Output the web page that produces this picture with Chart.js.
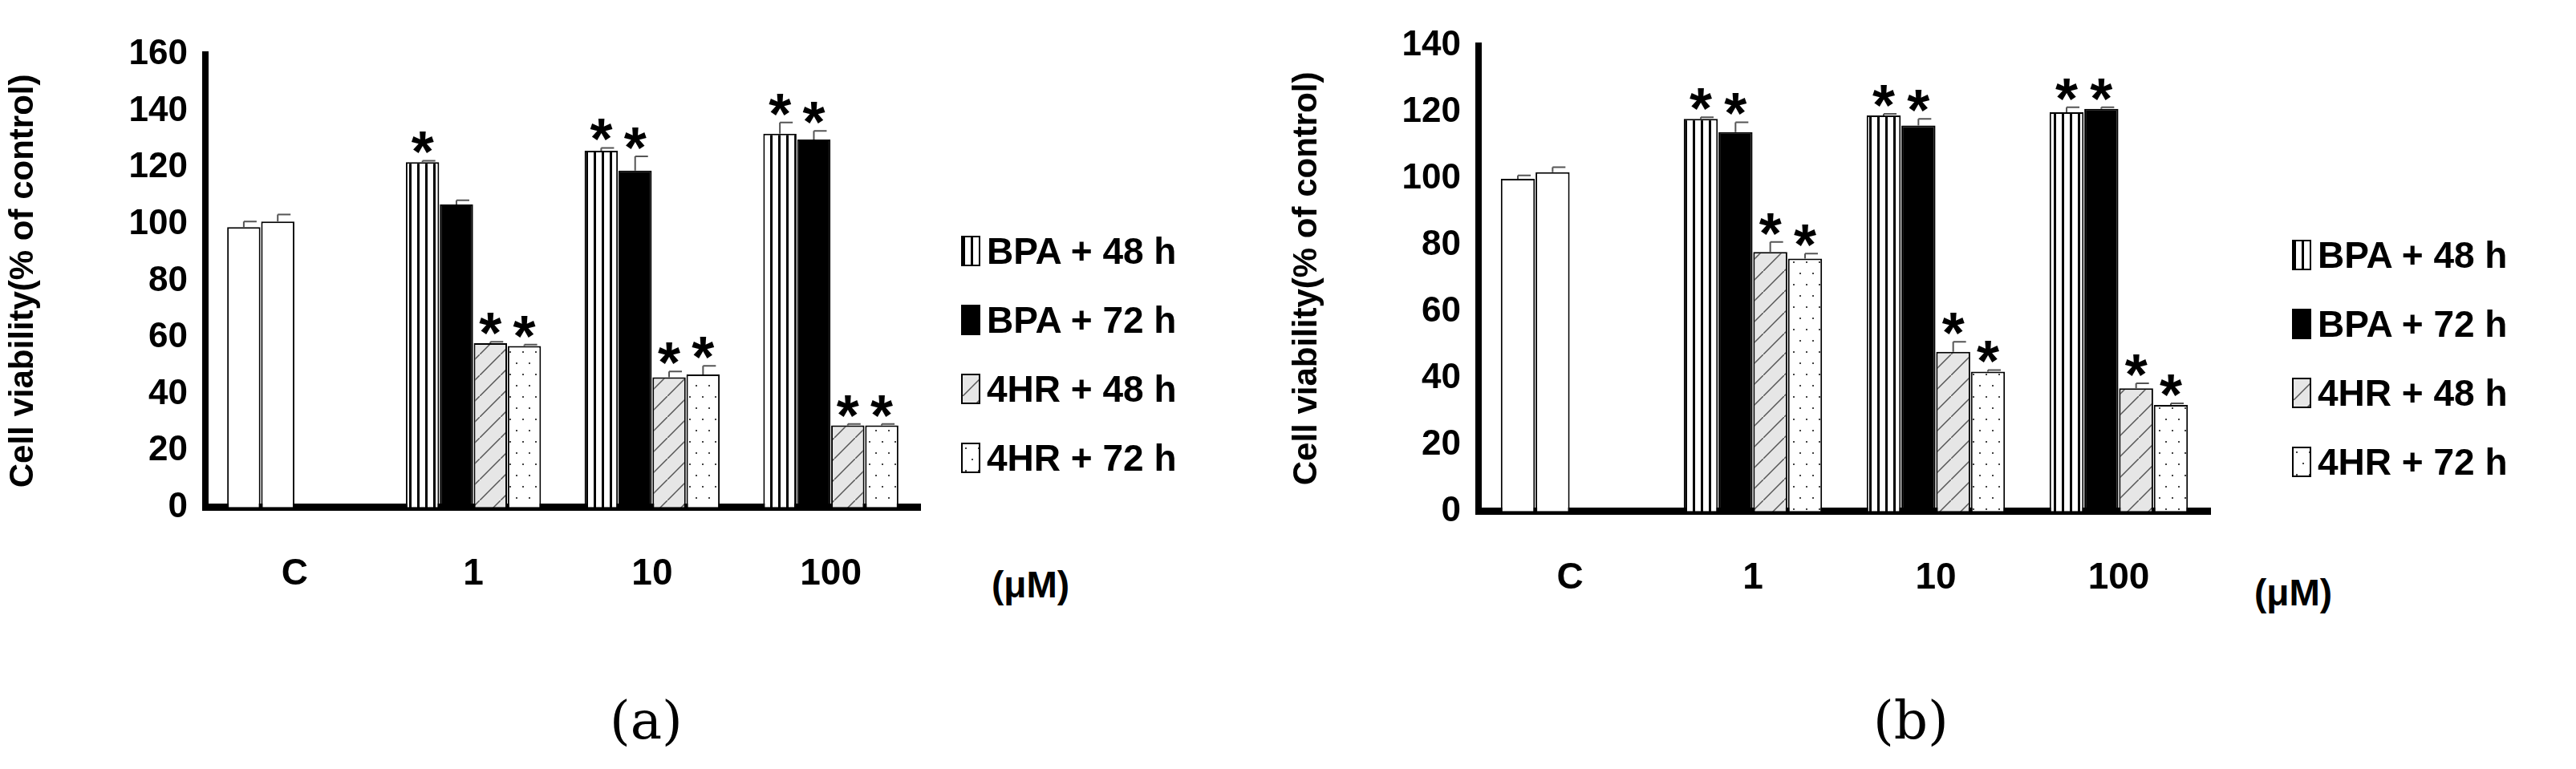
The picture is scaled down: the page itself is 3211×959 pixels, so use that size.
<!DOCTYPE html>
<html>
<head>
<meta charset="utf-8">
<script src="https://cdn.jsdelivr.net/npm/chart.js@4"></script>
<style>
  body { margin: 0; background: #fff; width: 3211px; height: 959px; position: relative; overflow: hidden; }
  .panel { position: absolute; top: 0; }
  .unit { position: absolute; font: bold 46px "Liberation Sans", Arial, sans-serif; }
  .cap { position: absolute; font: 66px "DejaVu Serif", "Liberation Serif", serif; }
  .leg { position: absolute; font: bold 46px "Liberation Sans", Arial, sans-serif; }
  .leg div { height: 86px; display: flex; align-items: center; }
  .leg canvas { border: 2px solid #000; margin-right: 8px; }
</style>
</head>
<body>
<div class="panel" style="left:0"><canvas id="chartA" width="1170" height="800" style="width:1170px;height:800px"></canvas></div>
<div class="panel" style="left:1600px"><canvas id="chartB" width="1175" height="805" style="width:1175px;height:805px"></canvas></div>
<div class="unit" style="left:1236px;top:702px">(μM)</div>
<div class="unit" style="left:2810px;top:712px">(μM)</div>
<div class="cap" style="left:760px;top:860px">(a)</div>
<div class="cap" style="left:2335px;top:860px">(b)</div>
<div class="leg" id="legA" style="left:1198px;top:270px"></div>
<div class="leg" id="legB" style="left:2857px;top:275px"></div>
<script>
'use strict';

const categories = ['C', '1', '10', '100'];
const seriesNames = ['BPA + 48 h', 'BPA + 72 h', '4HR + 48 h', '4HR + 72 h'];

// panel (a)
const aBpa48 = [99, 122, 126, 132];
const aBpa72 = [101, 107, 119, 130];
const a4hr48 = [null, 58, 46, 29];
const a4hr72 = [null, 57, 47, 29];
const aErr = [[2, 0.5, 1, 4], [2.5, 1.5, 5, 3], [0, 0.5, 2, 0.5], [0, 0.5, 3, 0.5]];
const aStars = [[false, true, true, true], [false, false, true, true], [false, true, true, true], [false, true, true, true]];
const aTicks = { min: 0, max: 160, step: 20 };

// panel (b)
const bBpa48 = [100, 118, 119, 120];
const bBpa72 = [102, 114, 116, 121];
const b4hr48 = [null, 78, 48, 37];
const b4hr72 = [null, 76, 42, 32];
const bErr = [[1, 0.5, 0.5, 1.5], [1.5, 3, 2, 0.5], [0, 3, 3, 1.5], [0, 1.5, 0.5, 0.5]];
const bStars = [[false, true, true, true], [false, true, true, true], [false, true, true, true], [false, true, true, true]];
const bTicks = { min: 0, max: 140, step: 20 };

// ---- fill patterns ----
function makePattern(kind) {
    const c = document.createElement('canvas');
    const g = c.getContext('2d');
    if (kind === 'stripes') {
        c.width = 10; c.height = 10;
        g.fillStyle = '#fff'; g.fillRect(0, 0, 10, 10);
        g.fillStyle = '#000'; g.fillRect(0, 0, 3, 10);
    } else if (kind === 'diag') {
        c.width = 26; c.height = 26;
        g.fillStyle = '#e6e6e6'; g.fillRect(0, 0, 26, 26);
        g.strokeStyle = '#555'; g.lineWidth = 1.5;
        g.beginPath(); g.moveTo(0, 26); g.lineTo(26, 0); g.stroke();
    } else if (kind === 'dots') {
        c.width = 16; c.height = 28;
        g.fillStyle = '#fff'; g.fillRect(0, 0, 16, 28);
        g.fillStyle = '#444'; g.fillRect(3, 4, 2, 2); g.fillRect(11, 18, 2, 2);
    }
    return g.createPattern(c, 'repeat');
}
const fills = [makePattern('stripes'), '#000', makePattern('diag'), makePattern('dots')];

// error bars and asterisks, positioned from the chart's own scales
const errorStarPlugin = {
    id: 'errorStar',
    afterDatasetsDraw(chart, args, opts) {
        const ctx = chart.ctx;
        const y = chart.scales.y;
        ctx.save();
        chart.data.datasets.forEach((ds, di) => {
            const meta = chart.getDatasetMeta(di);
            meta.data.forEach((bar, i) => {
                const v = ds.data[i];
                if (v == null) return;
                const e = opts.err[di][i];
                const top = y.getPixelForValue(v + e);
                ctx.strokeStyle = '#555';
                ctx.lineWidth = 2;
                ctx.beginPath();
                ctx.moveTo(bar.x, bar.y);
                ctx.lineTo(bar.x, top);
                ctx.moveTo(bar.x, top);
                ctx.lineTo(bar.x + 16, top);
                ctx.stroke();
                if (opts.stars[di][i]) {
                    ctx.fillStyle = '#000';
                    ctx.font = 'bold 72px "Liberation Sans", Arial';
                    ctx.textAlign = 'center';
                    ctx.textBaseline = 'bottom';
                    ctx.fillText('*', bar.x, top + 30);
                }
            });
        });
        ctx.restore();
    }
};

function buildChart(id, values, err, stars, ticks, yWidth, pad) {
    const datasets = values.map((vals, k) => ({
        label: seriesNames[k],
        data: vals,
        backgroundColor: vals.map((v, i) => i === 0 ? '#fff' : fills[k]),
        borderColor: '#000',
        borderWidth: 2,
        categoryPercentage: 0.76,
        barPercentage: 0.98,
    }));
    return new Chart(document.getElementById(id), {
        type: 'bar',
        data: { labels: categories, datasets: datasets },
        plugins: [errorStarPlugin],
        options: {
            responsive: false,
            animation: false,
            layout: { padding: pad },
            plugins: {
                legend: { display: false },
                tooltip: { enabled: false },
                errorStar: { err: err, stars: stars },
            },
            scales: {
                x: {
                    grid: { display: false, drawTicks: false },
                    border: { color: '#000', width: 9 },
                    ticks: { color: '#000', padding: 56, font: { family: 'Liberation Sans', size: 46, weight: 'bold' } },
                },
                y: {
                    min: ticks.min, max: ticks.max,
                    grid: { display: false, drawTicks: false },
                    border: { color: '#000', width: 8 },
                    ticks: { stepSize: ticks.step, color: '#000', padding: 22, font: { family: 'Liberation Sans', size: 44, weight: 'bold' } },
                    title: { display: true, text: 'Cell viability(% of control)', color: '#000', font: { family: 'Liberation Sans', size: 42, weight: 'bold' } },
                    afterFit(scale) { scale.width = yWidth; },
                },
            },
        },
    });
}

buildChart('chartA', [aBpa48, aBpa72, a4hr48, a4hr72], aErr, aStars, aTicks, 256, { top: 68, right: 23, left: 0, bottom: 0 });
buildChart('chartB', [bBpa48, bBpa72, b4hr48, b4hr72], bErr, bStars, bTicks, 243, { top: 57, right: 20, left: 0, bottom: 0 });

// HTML legends with the same fills
function buildLegend(id) {
    const box = document.getElementById(id);
    seriesNames.forEach((name, k) => {
        const row = document.createElement('div');
        const sw = document.createElement('canvas');
        sw.width = 20; sw.height = 34;
        const g = sw.getContext('2d');
        g.fillStyle = fills[k]; g.fillRect(0, 0, 20, 34);
        row.appendChild(sw);
        row.appendChild(document.createTextNode(name));
        box.appendChild(row);
    });
}
buildLegend('legA');
buildLegend('legB');
</script>
</body>
</html>
